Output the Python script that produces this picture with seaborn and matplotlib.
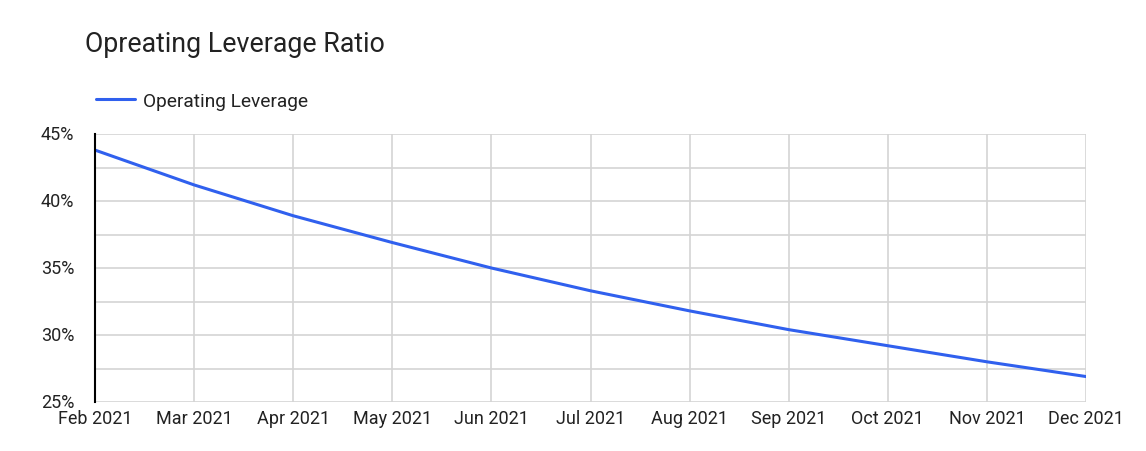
import pandas as pd
import numpy as np
import matplotlib
matplotlib.use('Agg')
import matplotlib.pyplot as plt
from matplotlib.ticker import PercentFormatter, MultipleLocator
import seaborn as sns

# Data
months = ['Feb 2021', 'Mar 2021', 'Apr 2021', 'May 2021', 'Jun 2021', 'Jul 2021',
          'Aug 2021', 'Sep 2021', 'Oct 2021', 'Nov 2021', 'Dec 2021']
leverage = [43.8, 41.2, 38.9, 36.9, 35.0, 33.3, 31.8, 30.4, 29.2, 28.0, 26.9]

df = pd.DataFrame({'Month': months, 'Operating Leverage': leverage})

sns.set_style('white')
plt.rcParams['font.family'] = ['Roboto', 'DejaVu Sans']

fig = plt.figure(figsize=(11.46, 4.52), dpi=100)
ax = fig.add_axes([95 / 1146, 1 - 403 / 452, (1086 - 95) / 1146, (403 - 135) / 452])

sns.lineplot(data=df, x='Month', y='Operating Leverage', ax=ax, sort=False,
             color='#3060ee', linewidth=2.2, label='Operating Leverage')

ax.set_xlim(0, len(months) - 1)
ax.set_ylim(25, 45)
ax.yaxis.set_major_locator(MultipleLocator(5))
ax.yaxis.set_minor_locator(MultipleLocator(2.5))
ax.yaxis.set_major_formatter(PercentFormatter(decimals=0))
ax.grid(True, which='both', color='#d4d4d4', linewidth=1.2)
ax.set_axisbelow(True)
ax.tick_params(axis='both', which='both', length=0, labelsize=13, colors='#222222')
ax.tick_params(axis='y', pad=15)
ax.tick_params(axis='x', pad=5)
for lbl in ax.get_yticklabels():
    lbl.set_verticalalignment('center')
ax.set_xlabel('')
ax.set_ylabel('')

for side in ['top', 'right', 'bottom']:
    ax.spines[side].set_visible(False)
ax.spines['left'].set_color('#000000')
ax.spines['left'].set_linewidth(1.5)

ax.get_legend().remove()
handles, labels = ax.get_legend_handles_labels()
fig.legend(handles, labels, loc='center left', bbox_to_anchor=(79 / 1146, 1 - 102 / 452),
           frameon=False, fontsize=13.8, handlelength=2.0, handletextpad=0.45, labelcolor='#222222')

fig.text(85 / 1146, 1 - 44 / 452, 'Opreating Leverage Ratio', fontsize=19.3,
         ha='left', va='center', color='#222222')

fig.savefig('out.png', dpi=100)
